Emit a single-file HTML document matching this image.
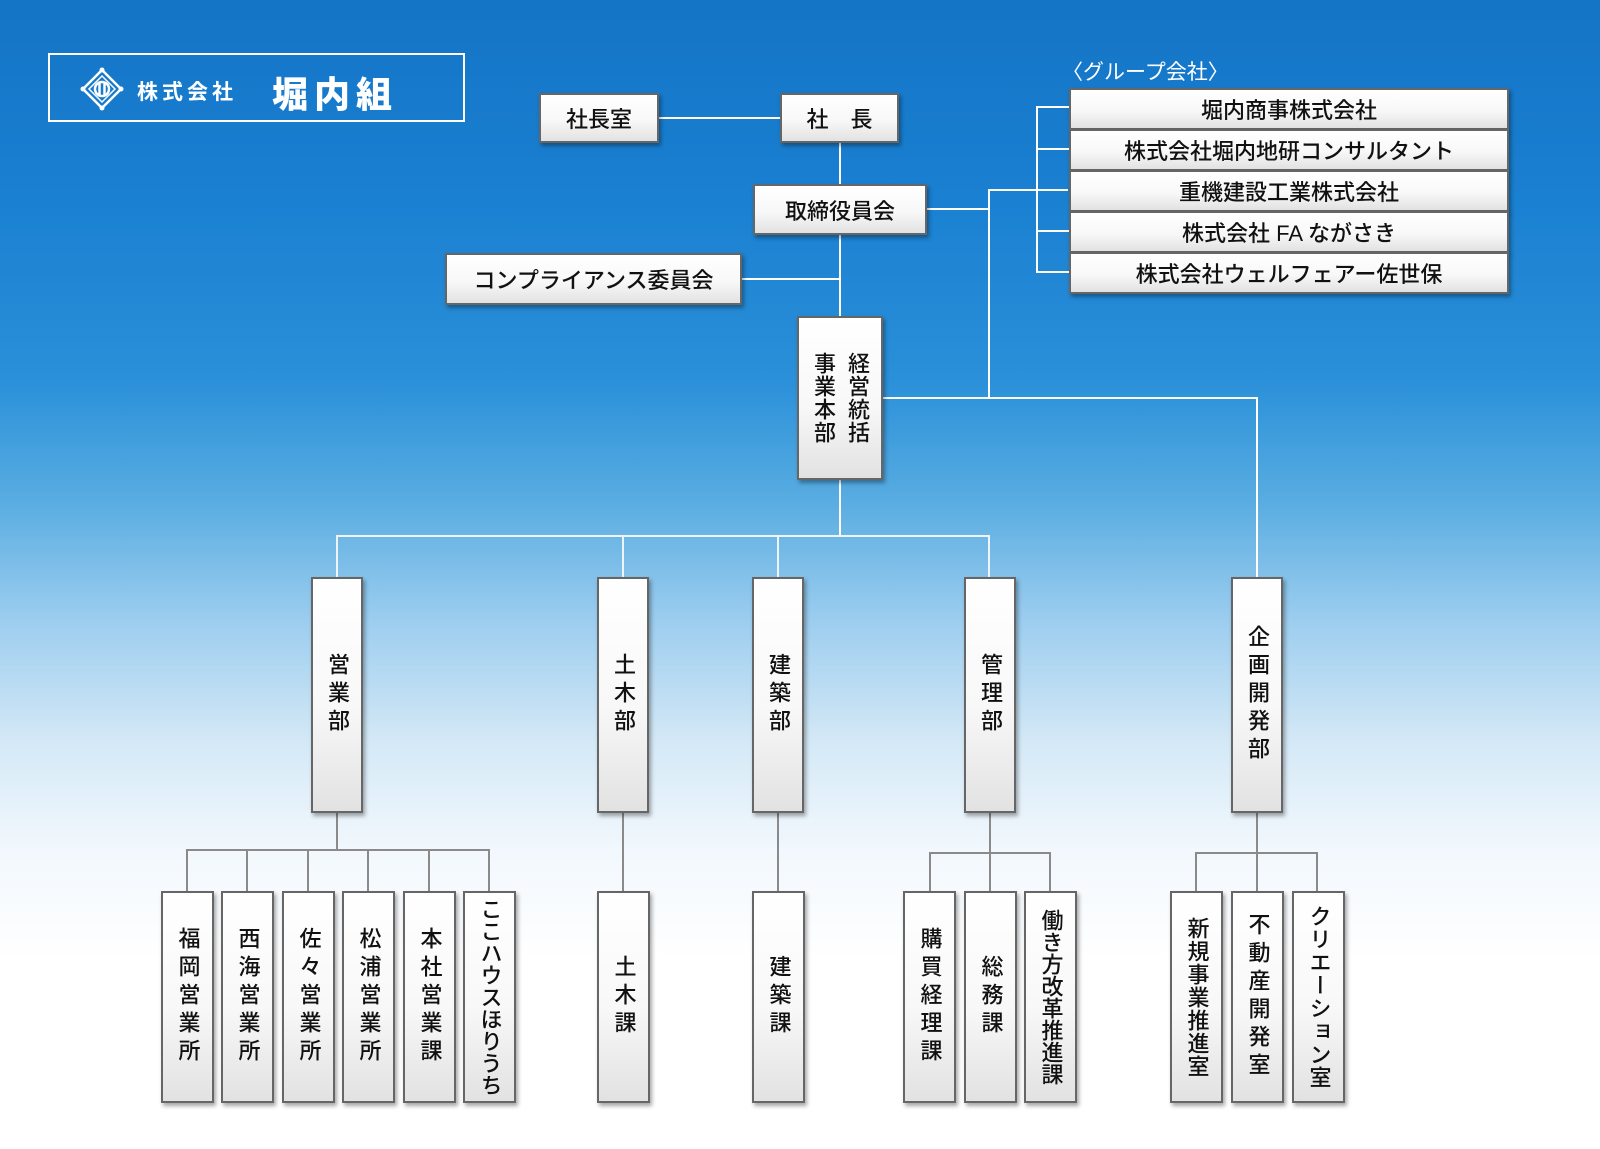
<!DOCTYPE html>
<html><head><meta charset="utf-8"><style>
*{margin:0;padding:0;box-sizing:border-box}
body{width:1600px;height:1149px;position:relative;overflow:hidden;font-family:"Liberation Sans","Noto Sans CJK JP",sans-serif;
background:linear-gradient(180deg,#1474c6 0px,#1a80d1 200px,#2a90d9 380px,#58ace1 500px,#9ccdef 620px,#d3e8f6 740px,#f2f8fd 850px,#ffffff 960px,#ffffff 1149px);}
.b{position:absolute;background:linear-gradient(180deg,#ffffff 0%,#f8f8f8 55%,#e2e2e2 100%);border:2px solid #666;box-shadow:2px 3px 4px rgba(0,0,0,.35);color:#111;display:flex;align-items:center;justify-content:center;font-size:22px;white-space:nowrap;font-weight:500}
.v{writing-mode:vertical-rl;letter-spacing:6px;line-height:1}
.l{position:absolute;background:#fff}
.g{position:absolute;background:#8a8a8a}
</style></head><body>
<div style="position:absolute;left:48px;top:53px;width:417px;height:69px;border:2px solid #fff"></div>
<svg style="position:absolute;left:80px;top:67px" width="44" height="44" viewBox="0 0 44 44">
<g fill="none" stroke="#fff" stroke-width="2.5"><polygon points="22,3 41,22 22,41 3,22"/><polygon points="22,9 35,22 22,35 9,22" stroke-width="1.5"/><circle cx="22" cy="22" r="7"/><line x1="19.5" y1="16" x2="19.5" y2="28"/><line x1="24.5" y1="16" x2="24.5" y2="28"/></g>
<g fill="#fff"><circle cx="22" cy="3" r="2.5"/><circle cx="41" cy="22" r="2.5"/><circle cx="22" cy="41" r="2.5"/><circle cx="3" cy="22" r="2.5"/></g></svg>
<div style="position:absolute;left:137px;top:76px;color:#fff;font-size:21px;letter-spacing:4px;font-weight:bold">株式会社</div>
<div style="position:absolute;left:272px;top:66px;color:#fff;font-size:36px;font-weight:900;letter-spacing:6px;font-family:'Noto Sans CJK JP',sans-serif">堀内組</div>

<div class="l" style="left:659px;top:117px;width:121px;height:2px"></div>
<div class="l" style="left:839px;top:143px;width:2px;height:173px"></div>
<div class="l" style="left:742px;top:278px;width:98px;height:2px"></div>
<div class="l" style="left:927px;top:208px;width:62px;height:2px"></div>
<div class="l" style="left:988px;top:189px;width:2px;height:210px"></div>
<div class="l" style="left:988px;top:189px;width:80px;height:2px"></div>
<div class="l" style="left:1036px;top:106px;width:2px;height:167px"></div>
<div class="l" style="left:1036px;top:106px;width:33px;height:2px"></div>
<div class="l" style="left:1036px;top:148px;width:33px;height:2px"></div>
<div class="l" style="left:1036px;top:230px;width:33px;height:2px"></div>
<div class="l" style="left:1036px;top:271px;width:33px;height:2px"></div>
<div class="l" style="left:883px;top:397px;width:374px;height:2px"></div>
<div class="l" style="left:1256px;top:397px;width:2px;height:180px"></div>
<div class="l" style="left:839px;top:480px;width:2px;height:56px"></div>
<div class="l" style="left:336px;top:535px;width:654px;height:2px;background:#eef4fa"></div>
<div class="l" style="left:336px;top:535px;width:2px;height:42px;background:#eef4fa"></div>
<div class="l" style="left:622px;top:535px;width:2px;height:42px;background:#eef4fa"></div>
<div class="l" style="left:777px;top:535px;width:2px;height:42px;background:#eef4fa"></div>
<div class="l" style="left:988px;top:535px;width:2px;height:42px;background:#eef4fa"></div>

<div class="g" style="left:336px;top:813px;width:2px;height:37px"></div>
<div class="g" style="left:186px;top:849px;width:304px;height:2px"></div>
<div class="g" style="left:186px;top:849px;width:2px;height:42px"></div>
<div class="g" style="left:246px;top:849px;width:2px;height:42px"></div>
<div class="g" style="left:307px;top:849px;width:2px;height:42px"></div>
<div class="g" style="left:367px;top:849px;width:2px;height:42px"></div>
<div class="g" style="left:428px;top:849px;width:2px;height:42px"></div>
<div class="g" style="left:488px;top:849px;width:2px;height:42px"></div>
<div class="g" style="left:622px;top:813px;width:2px;height:78px"></div>
<div class="g" style="left:777px;top:813px;width:2px;height:78px"></div>
<div class="g" style="left:989px;top:813px;width:2px;height:78px"></div>
<div class="g" style="left:929px;top:852px;width:122px;height:2px"></div>
<div class="g" style="left:929px;top:852px;width:2px;height:39px"></div>
<div class="g" style="left:1049px;top:852px;width:2px;height:39px"></div>
<div class="g" style="left:1256px;top:813px;width:2px;height:78px"></div>
<div class="g" style="left:1195px;top:852px;width:123px;height:2px"></div>
<div class="g" style="left:1195px;top:852px;width:2px;height:39px"></div>
<div class="g" style="left:1316px;top:852px;width:2px;height:39px"></div>

<div class="b" style="left:539px;top:93px;width:120px;height:50px">社長室</div>
<div class="b" style="left:780px;top:93px;width:119px;height:50px;letter-spacing:22px;padding-left:22px">社長</div>
<div class="b" style="left:753px;top:184px;width:174px;height:51px">取締役員会</div>
<div class="b" style="left:445px;top:253px;width:297px;height:52px">コンプライアンス委員会</div>
<div class="b v" style="left:797px;top:316px;width:86px;height:164px;letter-spacing:1px;line-height:34px">経営統括<br>事業本部</div>

<div style="position:absolute;left:1062px;top:56px;color:#fff;font-size:21px">〈グループ会社〉</div>
<div class="b" style="left:1069px;top:88px;width:440px;height:42px">堀内商事株式会社</div>
<div class="b" style="left:1069px;top:129px;width:440px;height:42px">株式会社堀内地研コンサルタント</div>
<div class="b" style="left:1069px;top:170px;width:440px;height:42px">重機建設工業株式会社</div>
<div class="b" style="left:1069px;top:211px;width:440px;height:42px">株式会社 FA ながさき</div>
<div class="b" style="left:1069px;top:252px;width:440px;height:42px">株式会社ウェルフェアー佐世保</div>

<div class="b v" style="left:311px;top:577px;width:52px;height:236px">営業部</div>
<div class="b v" style="left:597px;top:577px;width:52px;height:236px">土木部</div>
<div class="b v" style="left:752px;top:577px;width:52px;height:236px">建築部</div>
<div class="b v" style="left:964px;top:577px;width:52px;height:236px">管理部</div>
<div class="b v" style="left:1231px;top:577px;width:52px;height:236px">企画開発部</div>

<div class="b v" style="left:161px;top:891px;width:53px;height:212px">福岡営業所</div>
<div class="b v" style="left:221px;top:891px;width:53px;height:212px">西海営業所</div>
<div class="b v" style="left:282px;top:891px;width:53px;height:212px">佐々営業所</div>
<div class="b v" style="left:342px;top:891px;width:53px;height:212px">松浦営業所</div>
<div class="b v" style="left:403px;top:891px;width:53px;height:212px">本社営業課</div>
<div class="b v" style="left:463px;top:891px;width:53px;height:212px;letter-spacing:0">ここハウスほりうち</div>
<div class="b v" style="left:597px;top:891px;width:53px;height:212px">土木課</div>
<div class="b v" style="left:752px;top:891px;width:53px;height:212px">建築課</div>
<div class="b v" style="left:903px;top:891px;width:53px;height:212px">購買経理課</div>
<div class="b v" style="left:964px;top:891px;width:53px;height:212px">総務課</div>
<div class="b v" style="left:1024px;top:891px;width:53px;height:212px;letter-spacing:0">働き方改革推進課</div>
<div class="b v" style="left:1170px;top:891px;width:53px;height:212px;letter-spacing:1px">新規事業推進室</div>
<div class="b v" style="left:1231px;top:891px;width:53px;height:212px">不動産開発室</div>
<div class="b v" style="left:1292px;top:891px;width:53px;height:212px;letter-spacing:1px">クリエーション室</div>
</body></html>
